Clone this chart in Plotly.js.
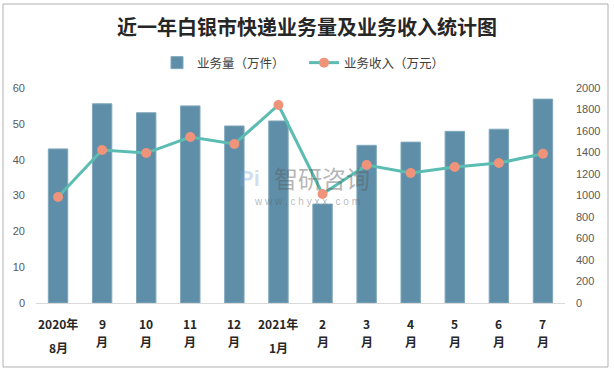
<!DOCTYPE html>
<html>
<head>
<meta charset="utf-8">
<script src="https://cdn.plot.ly/plotly-3.0.1.min.js"></script>
<style>html,body{margin:0;padding:0;background:#fff;}#chart{width:614px;height:373px;}</style>
</head>
<body>
<div id="chart"></div>
<script>
// ---- data ----
const months = ['2020年8月','2020年9月','2020年10月','2020年11月','2020年12月','2021年1月','2021年2月','2021年3月','2021年4月','2021年5月','2021年6月','2021年7月'];
const labelTop = ['2020年','9','10','11','12','2021年','2','3','4','5','6','7'];
const labelBottom = ['8月','月','月','月','月','1月','月','月','月','月','月','月'];
const volume = [43.0, 55.6, 53.1, 55.0, 49.4, 50.8, 27.6, 44.0, 44.9, 47.9, 48.5, 56.9]; // 万件
const revenue = [986, 1423, 1395, 1544, 1479, 1842, 1014, 1284, 1209, 1265, 1302, 1389]; // 万元
const leftTicks = [0,10,20,30,40,50,60];
const rightTicks = [0,200,400,600,800,1000,1200,1400,1600,1800,2000];

const F = 'Liberation Sans, Noto Sans CJK SC, sans-serif';
const CJK = 'Noto Sans CJK SC, sans-serif';

const traces = [
  {type:'bar', name:'业务量（万件）', x:months, y:volume, yaxis:'y',
   marker:{color:'#5F8FA8', line:{color:'#7FA7BC', width:1}}},
  {type:'scatter', mode:'lines+markers', name:'业务收入（万元）', x:months, y:revenue, yaxis:'y2',
   line:{color:'#5BBDB1', width:3}, marker:{color:'#F0937B', size:10}}
];

const annotations = [];
months.forEach((m,i)=>{
  annotations.push({x:m, xref:'x', y:0, yref:'paper', yanchor:'middle', yshift:-20,
    text:labelTop[i], showarrow:false, font:{family:CJK, size:12, color:'#262626', weight:'bold'}});
  annotations.push({x:m, xref:'x', y:0, yref:'paper', yanchor:'middle',
    yshift: labelBottom[i].length > 1 ? -44 : -38,
    text:labelBottom[i], showarrow:false, font:{family:CJK, size:12, color:'#262626', weight:'bold'}});
});
// watermark
annotations.push({xref:'paper', yref:'paper', x:(322-36)/529, y:(303-177)/215, text:'智研咨询',
  showarrow:false, font:{family:CJK, size:24, color:'rgba(90,90,90,0.45)'}});
annotations.push({xref:'paper', yref:'paper', x:(307-36)/529, y:(303-201)/215, text:'w w w . c h y x x . c o m',
  showarrow:false, font:{family:F, size:10, color:'rgba(90,90,90,0.45)'}});
annotations.push({xref:'paper', yref:'paper', x:(249-36)/529, y:(303-178)/215, text:'<b>Pi</b>',
  showarrow:false, font:{family:F, size:22, color:'rgba(120,160,210,0.35)'}});

const layout = {
  width:614, height:373,
  margin:{l:36, r:49, t:88, b:70},
  paper_bgcolor:'#fff', plot_bgcolor:'#fff',
  font:{family:F, size:11, color:'#595959'},
  title:{text:'近一年白银市快递业务量及业务收入统计图', x:0.5, xref:'container', xanchor:'center',
    y:1-28/373, yref:'container', yanchor:'middle',
    font:{family:CJK, size:20, color:'#262626', weight:'bold'}},
  showlegend:true,
  legend:{orientation:'h', xref:'container', yref:'container', x:157/614, xanchor:'left',
    y:1-63/373, yanchor:'middle', font:{family:CJK, size:12.5, color:'#404040'},
    entrywidth:102, entrywidthmode:'pixels', bgcolor:'rgba(0,0,0,0)'},
  bargap:0.56,
  xaxis:{type:'category', range:[-0.5, months.length-0.5], autorange:false, showticklabels:false,
    ticks:'', showgrid:false, zeroline:false,
    showline:true, linecolor:'#d9d9d9', linewidth:1, fixedrange:true},
  yaxis:{range:[0,60], tickvals:leftTicks, showgrid:false, zeroline:false, showline:false,
    ticks:'', ticklabelstandoff:10, tickfont:{family:F, size:11, color:'#595959'}},
  yaxis2:{range:[0,2000], tickvals:rightTicks, overlaying:'y', side:'right', showgrid:false,
    zeroline:false, showline:false, ticks:'', ticklabelstandoff:10,
    tickfont:{family:F, size:11, color:'#595959'}},
  annotations:annotations,
  shapes:[{type:'rect', xref:'paper', yref:'paper', x0:(3-36)/529, x1:(608-36)/529,
    y0:(303-367)/215, y1:(303-4)/215, line:{color:'#b0b0b0', width:1}, fillcolor:'rgba(0,0,0,0)', layer:'below'}]
};

Plotly.newPlot('chart', traces, layout, {displayModeBar:false, staticPlot:true});
</script>
</body>
</html>
